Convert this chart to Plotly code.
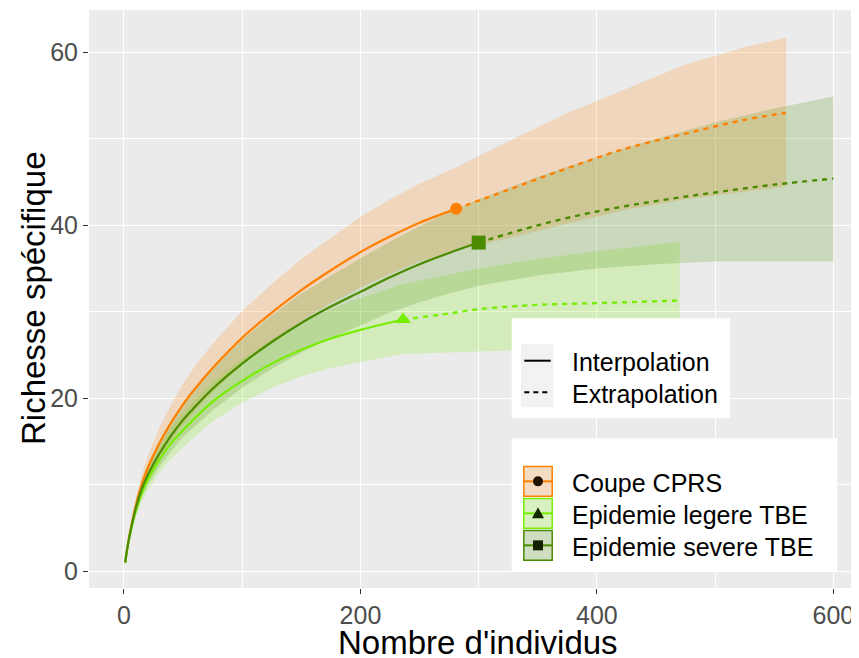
import plotly.graph_objects as go

# ---------------- data ----------------
groups = ["Coupe CPRS", "Epidemie legere TBE", "Epidemie severe TBE"]

# Coupe CPRS
cprs_n_int = [1, 3, 5, 10, 15, 20, 30, 40, 50, 60, 75, 100, 125, 150, 175, 200, 225, 250, 281]
cprs_s_int = [1, 2.8, 4.4, 7.6, 10.0, 11.9, 14.8, 17.2, 19.3, 21.1, 23.5, 27.0, 29.9, 32.5, 34.8, 36.9, 38.7, 40.3, 41.9]
cprs_up_int = [1, 3.0, 4.9, 8.5, 11.1, 13.3, 16.6, 19.3, 21.7, 23.7, 26.3, 30.1, 33.2, 36.1, 38.6, 41.0, 43.0, 44.8, 46.7]
cprs_lo_int = [1, 2.6, 3.9, 6.7, 8.9, 10.5, 13.0, 15.1, 16.9, 18.5, 20.7, 23.9, 26.6, 28.9, 31.0, 32.8, 34.4, 35.8, 37.1]
cprs_n_ext = [281, 325, 375, 425, 475, 525, 560]
cprs_s_ext = [41.9, 44.1, 46.6, 48.9, 50.6, 52.2, 53.0]
cprs_up_ext = [46.7, 49.7, 53.0, 55.8, 58.6, 60.6, 61.7]
cprs_lo_ext = [37.1, 38.5, 40.2, 41.8, 43.0, 43.9, 44.5]

# Epidemie legere TBE
leg_n_int = [1, 3, 5, 10, 15, 20, 30, 40, 50, 60, 75, 100, 125, 150, 175, 200, 236]
leg_s_int = [1, 2.8, 4.2, 7.0, 9.0, 10.5, 12.9, 14.8, 16.3, 17.7, 19.6, 22.0, 24.0, 25.6, 26.9, 27.9, 29.1]
leg_up_int = [1, 3.0, 4.6, 7.8, 10.0, 11.7, 14.4, 16.6, 18.3, 19.8, 21.9, 24.5, 26.8, 28.7, 30.3, 31.6, 33.2]
leg_lo_int = [1, 2.6, 3.8, 6.2, 8.0, 9.3, 11.4, 13.0, 14.3, 15.6, 17.3, 19.5, 21.2, 22.5, 23.5, 24.2, 25.1]
leg_n_ext = [236, 275, 300, 350, 400, 470]
leg_s_ext = [29.1, 29.8, 30.3, 30.8, 31.0, 31.3]
leg_up_ext = [33.2, 34.3, 35.0, 36.1, 37.0, 38.1]
leg_lo_ext = [25.1, 25.3, 25.4, 25.6, 25.7, 25.8]

# Epidemie severe TBE
sev_n_int = [1, 3, 5, 10, 15, 20, 30, 40, 50, 60, 75, 100, 125, 150, 175, 200, 225, 250, 275, 300]
sev_s_int = [1, 2.8, 4.3, 7.3, 9.5, 11.1, 13.6, 15.7, 17.5, 19.0, 21.1, 24.0, 26.5, 28.7, 30.6, 32.3, 34.0, 35.5, 36.8, 38.0]
sev_up_int = [1, 3.0, 4.7, 8.1, 10.5, 12.3, 15.1, 17.5, 19.5, 21.2, 23.6, 26.8, 29.6, 32.1, 34.2, 36.2, 38.1, 39.9, 41.5, 43.0]
sev_lo_int = [1, 2.6, 3.9, 6.5, 8.5, 9.9, 12.1, 13.9, 15.5, 16.8, 18.6, 21.2, 23.4, 25.3, 27.0, 28.4, 29.9, 31.1, 32.1, 33.0]
sev_n_ext = [300, 350, 400, 450, 500, 550, 600]
sev_s_ext = [38.0, 40.0, 41.6, 42.8, 43.8, 44.7, 45.4]
sev_up_ext = [43.0, 45.6, 47.9, 50.0, 51.9, 53.5, 54.9]
sev_lo_ext = [33.0, 34.2, 35.0, 35.5, 35.8, 35.8, 35.8]

x_ticks = [0, 200, 400, 600]
y_ticks = [0, 20, 40, 60]
x_title = "Nombre d'individus"
y_title = "Richesse spécifique"
lt_labels = ["Interpolation", "Extrapolation"]

# ---------------- styles ----------------
colors = {"Coupe CPRS": "#FF8000", "Epidemie legere TBE": "#76EE00", "Epidemie severe TBE": "#4A8B00"}
fills = {"Coupe CPRS": "rgba(255,128,0,0.2)", "Epidemie legere TBE": "rgba(118,238,0,0.2)",
         "Epidemie severe TBE": "rgba(69,139,0,0.2)"}
symbols = {"Coupe CPRS": "circle", "Epidemie legere TBE": "triangle-up", "Epidemie severe TBE": "square"}
msizes = {"Coupe CPRS": 12, "Epidemie legere TBE": 14, "Epidemie severe TBE": 14}
FONT = "Liberation Sans, Arial, sans-serif"

data = {
    "Coupe CPRS": (cprs_n_int, cprs_s_int, cprs_up_int, cprs_lo_int, cprs_n_ext, cprs_s_ext, cprs_up_ext, cprs_lo_ext),
    "Epidemie legere TBE": (leg_n_int, leg_s_int, leg_up_int, leg_lo_int, leg_n_ext, leg_s_ext, leg_up_ext, leg_lo_ext),
    "Epidemie severe TBE": (sev_n_int, sev_s_int, sev_up_int, sev_lo_int, sev_n_ext, sev_s_ext, sev_up_ext, sev_lo_ext),
}

fig = go.Figure()

# ribbons
for g in groups:
    ni, si, ui, li, ne, se, ue, le = data[g]
    nn = ni + ne[1:]
    up = ui + ue[1:]
    lo = li + le[1:]
    fig.add_trace(go.Scatter(x=nn + nn[::-1], y=up + lo[::-1], fill="toself", fillcolor=fills[g],
                             line=dict(width=0), mode="lines",
                             hoverinfo="skip", showlegend=False))

# lines
for g in groups:
    ni, si, ui, li, ne, se, ue, le = data[g]
    fig.add_trace(go.Scatter(x=ni, y=si, mode="lines",
                             line=dict(color=colors[g], width=2.2, shape="spline", smoothing=1.0),
                             showlegend=False, name=g))
    fig.add_trace(go.Scatter(x=ne, y=se, mode="lines",
                             line=dict(color=colors[g], width=2.4, dash="5px,5px", shape="spline", smoothing=1.0),
                             showlegend=False, name=g))
# observed points
for g in groups:
    ni, si = data[g][0], data[g][1]
    fig.add_trace(go.Scatter(x=[ni[-1]], y=[si[-1]], mode="markers",
                             marker=dict(symbol=symbols[g], size=msizes[g], color=colors[g], line=dict(width=0)),
                             showlegend=False, name=g))

# the page body adds an 8 px offset; figure is sized so it ends at the window edge
OFF = 8
W, H = 859 - OFF, 658 - OFF
L, R, T, B = 89 - OFF, 0, 10 - OFF, 70
PW, PH = W - L - R, H - T - B


def px(x):
    return (x - OFF - L) / PW


def py(y):
    return (H - B - (y - OFF)) / PH


shapes = []
annotations = []


def rect(x0, y0, x1, y1, fill, line_color=None, lw=0):
    shapes.append(dict(type="rect", xref="paper", yref="paper", x0=px(x0), x1=px(x1), y0=py(y1), y1=py(y0),
                       fillcolor=fill, line=dict(color=line_color or fill, width=lw), layer="above"))


def hline(x0, x1, y, color, width, dash="solid"):
    shapes.append(dict(type="line", xref="paper", yref="paper", x0=px(x0), x1=px(x1), y0=py(y), y1=py(y),
                       line=dict(color=color, width=width, dash=dash), layer="above"))


def label(x, y, text):
    annotations.append(dict(xref="paper", yref="paper", x=px(x), y=py(y), text=text, showarrow=False,
                            xanchor="left", yanchor="middle", font=dict(family=FONT, size=25, color="black")))


# legend 1: line type
rect(511.7, 318.3, 730, 418.3, "white")
rect(521, 344, 553.3, 407.3, "#F2F2F2")
hline(524.3, 550.7, 360.7, "black", 2)
hline(524.3, 550.7, 392.3, "black", 2, dash="5px,4px")
label(570.0, 362.0, lt_labels[0])
label(570.0, 394.0, lt_labels[1])

# legend 2: groups
rect(511.7, 438.3, 837.3, 571.7, "white")
key_tops = [466.0, 498.0, 530.0]
text_y = [482.5, 515.0, 547.0]
for i, g in enumerate(groups):
    y0 = key_tops[i]
    y1 = y0 + 30.7
    rect(523.3, y0, 552.7, y1, "#F2F2F2")
    rect(523.8, y0 + 0.5, 552.2, y1 - 0.5, fills[g], colors[g], 1.5)
    yc = (y0 + y1) / 2
    hline(524, 552, yc, colors[g], 2)
    xc = 538.0
    if symbols[g] == "circle":
        shapes.append(dict(type="circle", xref="paper", yref="paper", x0=px(xc - 5), x1=px(xc + 5),
                           y0=py(yc + 5), y1=py(yc - 5), fillcolor="#241200", line=dict(width=0), layer="above"))
    elif symbols[g] == "square":
        shapes.append(dict(type="rect", xref="paper", yref="paper", x0=px(xc - 5), x1=px(xc + 5),
                           y0=py(yc + 5), y1=py(yc - 5), fillcolor="#142000", line=dict(width=0), layer="above"))
    else:
        path = "M {:.5f},{:.5f} L {:.5f},{:.5f} L {:.5f},{:.5f} Z".format(
            px(xc - 6), py(yc + 5), px(xc + 6), py(yc + 5), px(xc), py(yc - 6))
        shapes.append(dict(type="path", xref="paper", yref="paper", path=path, fillcolor="#142800",
                           line=dict(width=0), layer="above"))
    label(570.0, text_y[i], g)

# axis titles
annotations.append(dict(xref="paper", yref="paper", x=px(478), y=py(642), text=x_title, showarrow=False,
                        xanchor="center", yanchor="middle", font=dict(family=FONT, size=33, color="black")))
annotations.append(dict(xref="paper", yref="paper", x=px(33), y=py(298), text=y_title, showarrow=False,
                        textangle=-90, xanchor="center", yanchor="middle",
                        font=dict(family=FONT, size=33, color="black")))

fig.update_layout(
    width=W, height=H,
    margin=dict(l=L, r=R, t=T, b=B, pad=0, autoexpand=False),
    paper_bgcolor="white", plot_bgcolor="#EBEBEB",
    font=dict(family=FONT, color="black"),
    showlegend=False,
    shapes=shapes, annotations=annotations,
    xaxis=dict(range=[-29.6, 621.7], tickvals=x_ticks, showgrid=True, gridcolor="white", gridwidth=1.3,
               zeroline=False, showline=False, ticks="outside", ticklen=5, tickwidth=1.1, tickcolor="#333333",
               tickfont=dict(family=FONT, size=25, color="#4D4D4D"), automargin=False,
               minor=dict(tickvals=[100, 300, 500], showgrid=True, gridcolor="white", gridwidth=0.6, ticks="")),
    yaxis=dict(range=[-1.95, 64.9], tickvals=y_ticks, showgrid=True, gridcolor="white", gridwidth=1.3,
               zeroline=False, showline=False, ticks="outside", ticklen=5, tickwidth=1.1, tickcolor="#333333",
               tickfont=dict(family=FONT, size=25, color="#4D4D4D"), automargin=False,
               minor=dict(tickvals=[10, 30, 50], showgrid=True, gridcolor="white", gridwidth=0.6, ticks="")),
)

fig.write_html("out.html")
